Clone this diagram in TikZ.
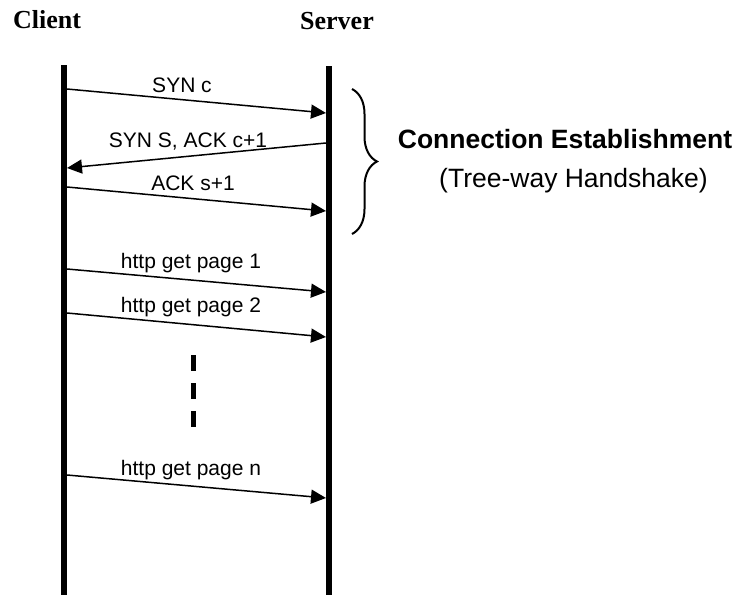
\documentclass[tikz,border=0pt]{standalone}
\usepackage{fontspec}
\setmainfont{Liberation Serif}
\setsansfont{Liberation Sans}
\usetikzlibrary{arrows.meta,decorations.pathreplacing}
\begin{document}
\begin{tikzpicture}[x=1pt,y=-1pt,
  lifeline/.style={line width=6pt},
  msg/.style={line width=1.5pt,-{Triangle[length=15pt,width=14pt]}},
  msglabel/.style={anchor=base,inner sep=0pt,font=\sffamily\fontsize{21}{25}\selectfont},
  party/.style={anchor=base west,inner sep=0pt,font=\bfseries\fontsize{26}{30}\selectfont},
  note/.style={anchor=base,inner sep=0pt,font=\sffamily\fontsize{26.5}{31}\selectfont}]
\useasboundingbox (0,0) rectangle (740,595);

% participants
\node[party] (client) at (13,28) {Client};
\node[party] (server) at (300,29) {Server};

% lifelines
\coordinate (ctop) at (64,65);
\coordinate (cbot) at (64,595);
\coordinate (stop) at (329,66);
\coordinate (sbot) at (329,595);
\draw[lifeline] (ctop) -- (cbot);
\draw[lifeline] (stop) -- (sbot);

% message end points on the lifelines
\coordinate (c1) at (67,89);   \coordinate (s1) at (326,113);
\coordinate (s2) at (326,143); \coordinate (c2) at (67,168);
\coordinate (c3) at (67,187);  \coordinate (s3) at (326,211);
\coordinate (c4) at (67,269);  \coordinate (s4) at (326,292);
\coordinate (c5) at (67,313);  \coordinate (s5) at (326,337);
\coordinate (c6) at (67,475);  \coordinate (s6) at (326,498);

% messages
\draw[msg] (c1) -- (s1);
\draw[msg] (s2) -- (c2);
\draw[msg] (c3) -- (s3);
\draw[msg] (c4) -- (s4);
\draw[msg] (c5) -- (s5);
\draw[msg] (c6) -- (s6);

\node[msglabel] (l1) at (182,92)  {SYN c};
\node[msglabel] (l2) at (188,147) {SYN S, ACK c+1};
\node[msglabel] (l3) at (193,190) {ACK s+1};
\node[msglabel] (l4) at (191,268) {http get page 1};
\node[msglabel] (l5) at (191,312) {http get page 2};
\node[msglabel] (l6) at (191,475) {http get page n};

% ellipsis between the requests
\coordinate (dtop) at (193.5,355);
\coordinate (dbot) at (193.5,427);
\draw[line width=5pt,dash pattern=on 16pt off 12pt] (dtop) -- (dbot);

% brace over the handshake
\coordinate (btop) at (352,89);
\coordinate (bbot) at (352,234);
\draw[line width=2pt,decorate,decoration={brace,amplitude=25pt}] (btop) -- (bbot);

\node[note,font=\sffamily\bfseries\fontsize{26.5}{31}\selectfont] (phase) at (565,148) {Connection Establishment};
\node[note] (phasesub) at (573.5,187) {(Tree-way Handshake)};
\end{tikzpicture}
\end{document}
